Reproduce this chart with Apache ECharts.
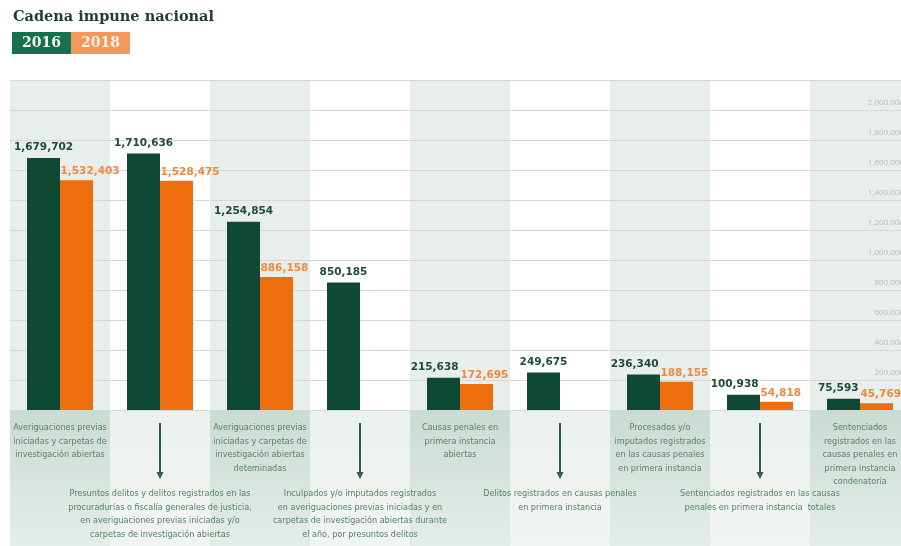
<!DOCTYPE html>
<html>
<head>
<meta charset="utf-8">
<script src="https://cdn.jsdelivr.net/npm/echarts@6/dist/echarts.min.js"></script>
<style>
  html, body { margin: 0; padding: 0; background: #ffffff; }
  #chart { width: 901px; height: 546px; }
</style>
</head>
<body>
<div id="chart"></div>
<script>
// Stages of the national impunity chain
const stages = [
  'Averiguaciones previas\niniciadas y carpetas de\ninvestigación abiertas',
  'Presuntos delitos y delitos registrados en las\nprocuradurías o fiscalía generales de justicia,\nen averiguaciones previas iniciadas y/o\ncarpetas de investigación abiertas',
  'Averiguaciones previas\niniciadas y carpetas de\ninvestigación abiertas\ndeteminadas',
  'Inculpados y/o imputados registrados\nen averiguaciones previas iniciadas y en\ncarpetas de investigación abiertas durante\nel año, por presuntos delitos',
  'Causas penales en\nprimera instancia\nabiertas',
  'Delitos registrados en causas penales\nen primera instancia',
  'Procesados y/o\nimputados registrados\nen las causas penales\nen primera instancia',
  'Sentenciados registrados en las causas\npenales en primera instancia  totales',
  'Sentenciados\nregistrados en las\ncausas penales en\nprimera instancia\ncondenatoria'
];

const values2016 = [1679702, 1710636, 1254854, 850185, 215638, 249675, 236340, 100938, 75593];
const values2018 = [1532403, 1528475, 886158, null, 172695, null, 188155, 54818, 45769];

// Stages that hang below the previous one with a down arrow
const connectorSteps = [1, 3, 5, 7];

const yMax = 2200000;
const yStep = 200000;

const GREEN = '#0e4a33';
const ORANGE = '#ee6d0c';
const fmt = v => v.toLocaleString('en-US');

const chart = echarts.init(document.getElementById('chart'), null, { renderer: 'canvas' });

const bandGradient = (c0, c1) => new echarts.graphic.LinearGradient(0, 0, 0, 1, [
  { offset: 0, color: c0 }, { offset: 1, color: c1 }
]);

const data2016 = values2016.map((v, i) => {
  const hasPair = values2018[i] != null;
  const narrow = hasPair && v < 1000000;
  return {
    value: v,
    label: narrow ? { align: 'right', offset: [15, 0] } : { align: 'center' }
  };
});

const categoryData = stages.map((s, i) => connectorSteps.includes(i)
  ? { value: s, textStyle: { padding: [66, 0, 0, 0] } }
  : { value: s });

chart.setOption({
  animation: false,
  title: {
    text: 'Cadena impune nacional',
    left: 8,
    top: 5,
    textStyle: {
      fontFamily: 'DejaVu Serif',
      fontWeight: 'bold',
      fontSize: 14.5,
      color: '#1e3f31'
    }
  },
  legend: {
    left: 7,
    top: 32,
    padding: 0,
    itemWidth: 0,
    itemHeight: 0,
    itemGap: -5,
    selectedMode: false,
    textStyle: {
      fontFamily: 'DejaVu Serif',
      fontWeight: 'bold',
      fontSize: 14,
      color: '#fbf3e6',
      padding: [4, 10, 3, 10],
      lineHeight: 15
    },
    data: [
      { name: '2016', icon: 'rect', textStyle: { backgroundColor: '#15704f' } },
      { name: '2018', icon: 'rect', textStyle: { backgroundColor: '#f2985a' } }
    ]
  },
  grid: [
    { left: 10, right: -9, top: 80, bottom: 136, outerBoundsMode: 'none' },
    { left: 10, right: -9, top: 410, bottom: 0, outerBoundsMode: 'none' }
  ],
  xAxis: [
    {
      type: 'category',
      gridIndex: 0,
      data: categoryData,
      z: 0,
      axisLine: { show: false },
      axisTick: { show: false },
      splitArea: { show: true, interval: 0, areaStyle: { color: ['#e8efea', '#ffffff'] } },
      axisLabel: {
        interval: 0,
        margin: 11,
        hideOverlap: false,
        fontFamily: "'Liberation Sans Narrow', 'DejaVu Sans Condensed', Roboto, sans-serif",
        fontSize: 9,
        lineHeight: 13.5,
        color: '#587f6a',
        align: 'center',
        verticalAlign: 'top'
      }
    },
    {
      type: 'category',
      gridIndex: 1,
      data: stages,
      z: -1,
      axisLine: { show: false },
      axisTick: { show: false },
      axisLabel: { show: false, interval: 0 },
      splitArea: {
        show: true,
        interval: 0,
        areaStyle: {
          color: [bandGradient('#c9dbd2', '#e5ede8'), bandGradient('#ebf1ed', '#f1f5f2')]
        }
      }
    }
  ],
  yAxis: [
    {
      type: 'value',
      gridIndex: 0,
      position: 'right',
      min: 0,
      max: yMax,
      interval: yStep,
      z: 1,
      axisLine: { show: false },
      axisTick: { show: false },
      splitLine: { show: true, lineStyle: { color: '#d3d9d5', width: 1 } },
      axisLabel: {
        inside: true,
        margin: 6,
        showMinLabel: false,
        showMaxLabel: false,
        verticalAlign: 'bottom',
        padding: [0, 0, 3, 0],
        fontFamily: "'Open Sans', Roboto, sans-serif",
        fontSize: 8,
        color: '#b4bcb7',
        formatter: v => fmt(v)
      }
    },
    {
      type: 'value',
      gridIndex: 1,
      min: 0,
      max: 1,
      show: false
    }
  ],
  series: [
    {
      name: '2016',
      type: 'bar',
      xAxisIndex: 0,
      yAxisIndex: 0,
      barWidth: 33,
      barGap: '0%',
      itemStyle: { color: GREEN },
      label: {
        show: true,
        position: 'top',
        distance: 5,
        fontFamily: 'DejaVu Sans',
        fontWeight: 'bold',
        fontSize: 10.5,
        color: '#1e4a37',
        formatter: p => fmt(p.value)
      },
      data: data2016
    },
    {
      name: '2018',
      type: 'bar',
      xAxisIndex: 0,
      yAxisIndex: 0,
      barWidth: 33,
      barGap: '0%',
      itemStyle: { color: ORANGE },
      label: {
        show: true,
        position: 'top',
        distance: 3,
        align: 'left',
        offset: [-16, 0],
        fontFamily: 'DejaVu Sans',
        fontWeight: 'bold',
        fontSize: 10.5,
        color: '#f0893b',
        formatter: p => fmt(p.value)
      },
      data: values2018
    },
    {
      // down arrows linking one stage to the next
      type: 'custom',
      xAxisIndex: 1,
      yAxisIndex: 1,
      silent: true,
      data: connectorSteps.map(i => [i]),
      renderItem: (params, api) => {
        const x = api.coord([api.value(0), 0])[0];
        const top = params.coordSys.y;
        const color = '#2a5c46';
        return {
          type: 'group',
          children: [
            {
              type: 'line',
              shape: { x1: x, y1: top + 13, x2: x, y2: top + 63 },
              style: { stroke: color, lineWidth: 2 }
            },
            {
              type: 'polygon',
              shape: { points: [[x - 3.5, top + 62], [x + 3.5, top + 62], [x, top + 69]] },
              style: { fill: color }
            }
          ]
        };
      }
    }
  ]
});
</script>
</body>
</html>
